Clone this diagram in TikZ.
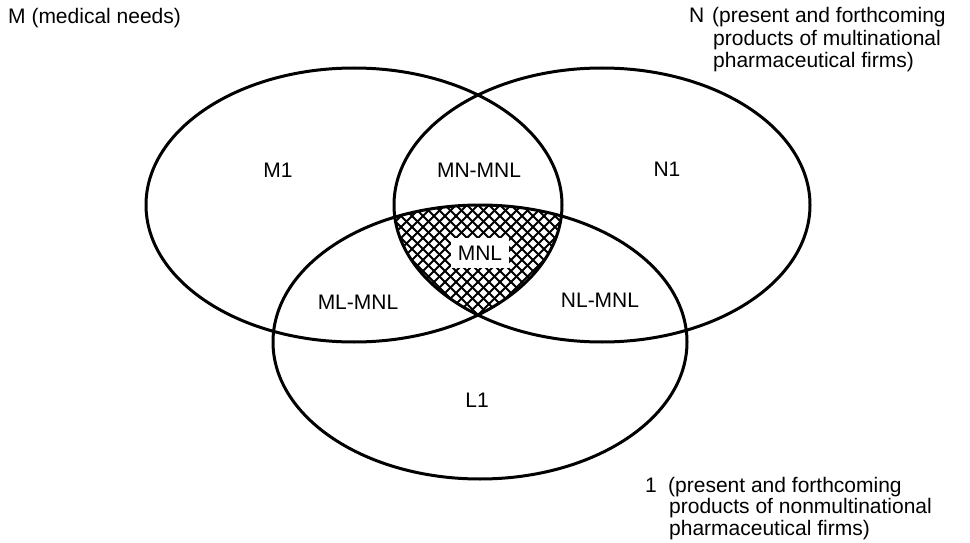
\documentclass[tikz,border=0pt]{standalone}
\usepackage{fontspec}
\setmainfont{Liberation Sans}
\begin{document}
\begin{tikzpicture}[x=1pt,y=-1pt,
  setline/.style={line width=3pt},
  hatchline/.style={line width=1.8pt},
  lbl/.style={inner sep=0pt,font=\fontsize{21}{22}\selectfont},
  cornerlbl/.style={lbl,anchor=base west}]
\useasboundingbox (0,0) rectangle (970,543);

% cross-hatching of the common part M, N and L
\begin{scope}
  \clip (354,205) ellipse [x radius=208pt, y radius=137pt];
  \clip (602,205) ellipse [x radius=208pt, y radius=137pt];
  \clip (480,342) ellipse [x radius=207pt, y radius=137pt];
  \foreach \a in {0,...,38} {
    \draw[hatchline] (200+\a*11,180) -- ++(170,170);
    \draw[hatchline] (360+\a*11,180) -- ++(-170,170);
  }
\end{scope}

% the three sets
\draw[setline] (354,205) ellipse [x radius=208pt, y radius=137pt];
\draw[setline] (602,205) ellipse [x radius=208pt, y radius=137pt];
\draw[setline] (480,342) ellipse [x radius=207pt, y radius=137pt];

% region labels
\node[lbl] (m1) at (278,170) {M1};
\node[lbl] (mn) at (479,170) {MN-MNL};
\node[lbl] (n1) at (667,169) {N1};
\node[lbl,fill=white,inner xsep=7pt,inner ysep=8pt] (mnl) at (480,253) {MNL};
\node[lbl] (ml) at (358,302) {ML-MNL};
\node[lbl] (nl) at (600,300) {NL-MNL};
\node[lbl] (l1) at (477,400) {L1};

% set captions
\node[cornerlbl] (capm) at (8,24) {M (medical needs)};
\node[cornerlbl] (capnk) at (689,23) {N};
\node[cornerlbl] (capn1) at (712,23) {(present and forthcoming};
\node[cornerlbl] (capn2) at (713,46) {products of multinational};
\node[cornerlbl] (capn3) at (713,68) {pharmaceutical firms)};
\node[cornerlbl] (caplk) at (645,492) {1};
\node[cornerlbl] (capl1) at (668,492) {(present and forthcoming};
\node[cornerlbl] (capl2) at (669,513) {products of nonmultinational};
\node[cornerlbl] (capl3) at (669,535) {pharmaceutical firms)};
\end{tikzpicture}
\end{document}
